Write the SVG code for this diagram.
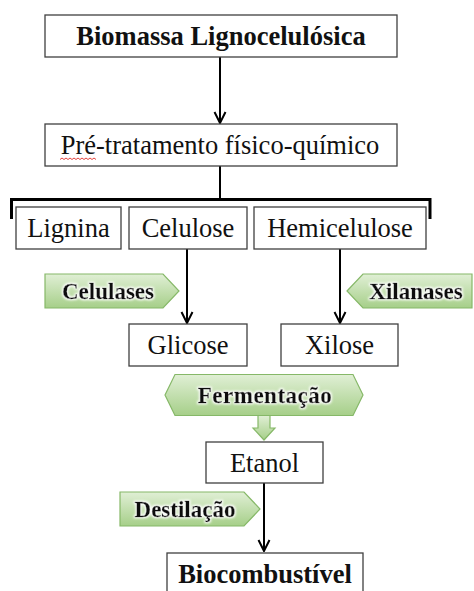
<svg xmlns="http://www.w3.org/2000/svg" width="474" height="591" viewBox="0 0 474 591">
  <defs>
    <linearGradient id="greenFill" x1="0" y1="0" x2="0" y2="1">
      <stop offset="0" stop-color="#e0efd5"/>
      <stop offset="1" stop-color="#a6cf89"/>
    </linearGradient>
    <filter id="glow" x="-10%" y="-30%" width="120%" height="160%">
      <feMorphology in="SourceAlpha" operator="dilate" radius="1.2" result="fat"/>
      <feGaussianBlur in="fat" stdDeviation="0.8" result="soft"/>
      <feFlood flood-color="#ffffff"/>
      <feComposite in2="soft" operator="in" result="halo"/>
      <feMerge>
        <feMergeNode in="halo"/>
        <feMergeNode in="SourceGraphic"/>
      </feMerge>
    </filter>
    <marker id="vhead" markerUnits="userSpaceOnUse" markerWidth="14" markerHeight="14" viewBox="-13 -7 14 14" refX="0" refY="0" orient="auto">
      <path d="M-11,-5.5 L0,0 L-11,5.5" fill="none" stroke="#000" stroke-width="2"/>
    </marker>
  </defs>
  <style>
    .box { fill: #fff; stroke: #404040; stroke-width: 1.3; }
    .txt { font-family: "Liberation Serif", "Times New Roman", serif; font-size: 26.5px; fill: #111; text-anchor: middle; }
    .bold { font-weight: bold; }
    .tag { fill: url(#greenFill); stroke: #86b868; stroke-width: 1.2; }
    .tagtxt { font-family: "Liberation Serif", "Times New Roman", serif; font-size: 23px; font-weight: bold; fill: #111; stroke: #111; stroke-width: 0.3; text-anchor: middle; filter: url(#glow); }
    .link { fill: none; stroke: #000; stroke-width: 2; }
  </style>

  <rect width="474" height="591" fill="#fff"/>

  <!-- connectors -->
  <g id="connectors">
    <path class="link" d="M220,57 V123" marker-end="url(#vhead)"/>
    <path class="link" d="M220,166 V199"/>
    <path fill="none" stroke="#000" stroke-width="3" d="M11.5,219 V199.5 H430 V219"/>
    <path class="link" d="M187,249 V323" marker-end="url(#vhead)"/>
    <path class="link" d="M340,249 V323" marker-end="url(#vhead)"/>
    <path class="link" d="M264,483 V551" marker-end="url(#vhead)"/>
    <!-- block arrow below the fermentation step -->
    <path class="tag" d="M258,415.5 H270 V428 H275 L264,440 L253,428 H258 Z"/>
  </g>

  <g id="biomassa">
    <rect class="box" x="45" y="15" width="352" height="42"/>
    <text class="txt bold" x="221" y="45">Biomassa Lignocelulósica</text>
  </g>

  <g id="pretratamento">
    <rect class="box" x="45" y="124" width="352" height="42"/>
    <text class="txt" x="220" y="154">Pré-tratamento físico-químico</text>
    <path d="M60,159.5 l2,-1.5 l2,1.5 l2,-1.5 l2,1.5 l2,-1.5 l2,1.5 l2,-1.5 l2,1.5 l2,-1.5 l2,1.5 l2,-1.5 l2,1.5 l2,-1.5 l2,1.5 l2,-1.5 l2,1.5 l2,-1.5 l2,1.5" fill="none" stroke="#e0302a" stroke-width="0.9"/>
  </g>

  <g id="lignina">
    <rect class="box" x="16" y="207" width="105" height="42"/>
    <text class="txt" x="68.5" y="237">Lignina</text>
  </g>

  <g id="celulose">
    <rect class="box" x="129" y="207" width="118" height="42"/>
    <text class="txt" x="188" y="237">Celulose</text>
  </g>

  <g id="hemicelulose">
    <rect class="box" x="254" y="207" width="172" height="42"/>
    <text class="txt" x="340" y="237">Hemicelulose</text>
  </g>

  <g id="celulases">
    <path class="tag" d="M45,274 H163 L179,291 L163,308 H45 Z"/>
    <text class="tagtxt" x="108" y="299">Celulases</text>
  </g>

  <g id="xilanases">
    <path class="tag" d="M347,291 L363,274 H472 V308 H363 Z"/>
    <text class="tagtxt" x="416" y="299">Xilanases</text>
  </g>

  <g id="glicose">
    <rect class="box" x="129" y="324" width="118" height="42"/>
    <text class="txt" x="188" y="354">Glicose</text>
  </g>

  <g id="xilose">
    <rect class="box" x="281" y="324" width="117" height="42"/>
    <text class="txt" x="339.5" y="354">Xilose</text>
  </g>

  <g id="fermentacao">
    <path class="tag" d="M165,395 L175,374.5 H353 L363,395 L353,415.5 H175 Z"/>
    <text class="tagtxt" x="265" y="403" style="letter-spacing:0.5px">Fermentação</text>
  </g>

  <g id="etanol">
    <rect class="box" x="206" y="442" width="117" height="41"/>
    <text class="txt" x="264.5" y="472">Etanol</text>
  </g>

  <g id="destilacao">
    <path class="tag" d="M120,492 H244 L260,509 L244,526 H120 Z"/>
    <text class="tagtxt" x="185" y="517">Destilação</text>
  </g>

  <g id="biocombustivel">
    <rect class="box" x="167" y="553" width="196" height="50"/>
    <text class="txt bold" x="265" y="583">Biocombustível</text>
  </g>
</svg>
